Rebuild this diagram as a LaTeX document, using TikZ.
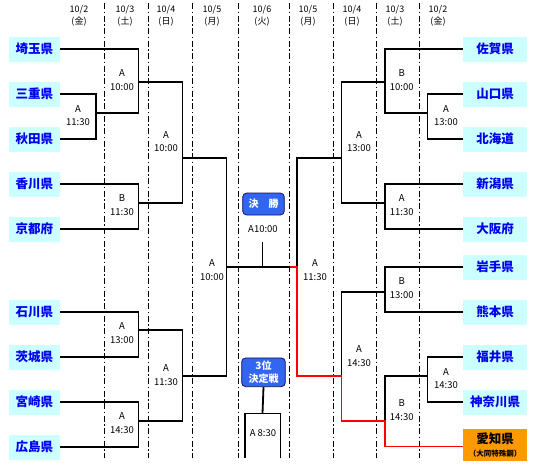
\documentclass[tikz,border=0pt]{standalone}
\usepackage{fontspec}
\setmainfont{Noto Sans CJK JP}
\definecolor{teambg}{HTML}{CCFFFF}
\definecolor{teamfg}{HTML}{0000EE}
\definecolor{hostbg}{HTML}{FF9900}
\definecolor{boxbg}{HTML}{3366F0}
\definecolor{boxline}{HTML}{101060}
\tikzset{
  teamL/.style={fill=teambg, text=teamfg, font=\bfseries\fontsize{12.5}{14}\selectfont,
    minimum width=51pt, minimum height=25pt, inner sep=0pt},
  teamR/.style={teamL, minimum width=63.5pt},
  game/.style={align=center, font=\fontsize{9.5}{13.5}\selectfont, inner sep=0pt},
  day/.style={align=center, font=\fontsize{9}{12}\selectfont, inner sep=0pt},
  tie/.style={line width=1.8pt},
  win/.style={tie, red},
  sep/.style={line width=0.8pt, dash pattern=on 6pt off 2.5pt on 1.5pt off 2.5pt},
  roundbox/.style={fill=boxbg, draw=boxline, line width=0.8pt, rounded corners=4pt,
    text=white, align=center, font=\bfseries\fontsize{10}{13.5}\selectfont, inner sep=0pt}
}
\begin{document}
\begin{tikzpicture}[x=1pt,y=-1pt]
  \useasboundingbox (0,0) rectangle (536,469);
  % day columns
  \foreach \x in {104,148,192,238,289,333,376,419}
    \draw [sep] (\x,3) -- (\x,458);
  \foreach \x/\d/\w [count=\i] in {79/2/金,125/3/土,166/4/日,212/5/月,262/6/火,308/5/月,352/4/日,395/3/土,438/2/金}
    \node [day] (day\i) at (\x,16) {10/\d\\(\w)};

  % teams, left
  \node [teamL] (saitama)   at (34.5,49)  {埼玉県};
  \node [teamL] (mie)       at (34.5,94)  {三重県};
  \node [teamL] (akita)     at (34.5,139) {秋田県};
  \node [teamL] (kagawa)    at (34.5,184) {香川県};
  \node [teamL] (kyoto)     at (34.5,229) {京都府};
  \node [teamL] (ishikawa)  at (34.5,312) {石川県};
  \node [teamL] (ibaraki)   at (34.5,357) {茨城県};
  \node [teamL] (miyazaki)  at (34.5,402) {宮崎県};
  \node [teamL] (hiroshima) at (34.5,447) {広島県};
  % teams, right
  \node [teamR] (saga)      at (495,49)  {佐賀県};
  \node [teamR] (yamaguchi) at (495,94)  {山口県};
  \node [teamR] (hokkaido)  at (495,139) {北海道};
  \node [teamR] (niigata)   at (495,184) {新潟県};
  \node [teamR] (osaka)     at (495,229) {大阪府};
  \node [teamR] (iwate)     at (495,267) {岩手県};
  \node [teamR] (kumamoto)  at (495,312) {熊本県};
  \node [teamR] (fukui)     at (495,357) {福井県};
  \node [teamR] (kanagawa)  at (495,402) {神奈川県};
  \node [teamR, fill=hostbg, text=black, minimum height=32pt, align=center,
    font=\bfseries\fontsize{12.5}{16}\selectfont] (aichi) at (495,445)
    {愛知県\\[-3pt]{\fontsize{7.5}{9}\selectfont （大同特殊鋼）}};

  % game points
  \coordinate (gL1) at (96,113);
  \coordinate (gL2) at (138.5,82);
  \coordinate (gL3) at (138.5,203);
  \coordinate (gL4) at (182.5,158);
  \coordinate (gL5) at (138.5,330);
  \coordinate (gL6) at (138.5,421);
  \coordinate (gL7) at (182.5,376);
  \coordinate (gL)  at (226.5,267);
  \coordinate (gR1) at (427.5,113);
  \coordinate (gR2) at (385,82);
  \coordinate (gR3) at (385,203);
  \coordinate (gR4) at (341.5,158);
  \coordinate (gR5) at (385,292);
  \coordinate (gR6) at (427.5,376);
  \coordinate (gR7) at (385,421);
  \coordinate (gR8) at (341.5,376);
  \coordinate (gR)  at (297,267);
  \coordinate (finR) at (290,267);
  \coordinate (fin) at (262.5,267);
  \coordinate (finTop) at (262.5,242);

  % left half
  \draw [tie] (mie.east) -| (gL1) |- (akita.east);
  \draw [tie] (saitama.east) -| (gL2) |- (gL1);
  \draw [tie] (kagawa.east) -| (gL3) |- (kyoto.east);
  \draw [tie] (gL2) -| (gL4) |- (gL3);
  \draw [tie] (ishikawa.east) -| (gL5) |- (ibaraki.east);
  \draw [tie] (miyazaki.east) -| (gL6) |- (hiroshima.east);
  \draw [tie] (gL5) -| (gL7) |- (gL6);
  \draw [tie] (gL4) -| (gL) |- (gL7);
  \draw [tie] (gL) -- (finR);
  \draw [tie] (fin) -- (finTop);
  % right half
  \draw [tie] (yamaguchi.west) -| (gR1) |- (hokkaido.west);
  \draw [tie] (saga.west) -| (gR2) |- (gR1);
  \draw [tie] (niigata.west) -| (gR3) |- (osaka.west);
  \draw [tie] (gR2) -| (gR4) |- (gR3);
  \draw [tie] (iwate.west) -| (gR5) |- (kumamoto.west);
  \draw [tie] (fukui.west) -| (gR6) |- (kanagawa.west);
  \draw [tie] (gR6) -| (gR7);
  \draw [tie] (gR5) -| (gR8);
  \draw [tie] (gR4) -| (gR);
  \draw [win] (aichi.west |- 0,446.5) -| (gR7) -| (gR8) -| (gR) -- (finR);

  % game labels
  \node [game] (tL1) at (78,115.5)  {A\\11:30};
  \node [game] (tL2) at (122,80)    {A\\10:00};
  \node [game] (tL3) at (122,205)   {B\\11:30};
  \node [game] (tL4) at (166,141.5) {A\\10:00};
  \node [game] (tL5) at (122,333)   {A\\13:00};
  \node [game] (tL6) at (122,423)   {A\\14:30};
  \node [game] (tL7) at (166,375)   {A\\11:30};
  \node [game] (tL)  at (212,270)   {A\\10:00};
  \node [game] (tR1) at (446,115.5) {A\\13:00};
  \node [game] (tR2) at (401.7,80)  {B\\10:00};
  \node [game] (tR3) at (401.7,205) {A\\11:30};
  \node [game] (tR4) at (359,141.5) {A\\13:00};
  \node [game] (tR5) at (401.7,288) {B\\13:00};
  \node [game] (tR6) at (446,378.7) {A\\14:30};
  \node [game] (tR7) at (401.7,410) {B\\14:30};
  \node [game] (tR8) at (359,356)   {A\\14:30};
  \node [game] (tR)  at (315,270)   {A\\11:30};

  % final and third place
  \node [roundbox, minimum width=41.6pt, minimum height=22pt] (final) at (263.5,204) {決　勝};
  \node [game] (finTime) at (263,229) {A10:00};
  \node [roundbox, minimum width=43.6pt, minimum height=28.7pt] (third) at (263.5,372.3) {3位\\決定戦};
  \coordinate (thirdSplit) at (262.5,413.5);
  \coordinate (thirdL) at (245,458);
  \coordinate (thirdR) at (280.5,458);
  \draw [tie] (third.south) -- (thirdSplit);
  \draw [tie] (thirdL) |- (thirdR |- thirdSplit) -- (thirdR);
  \node [game] (thirdTime) at (263,432.7) {A 8:30};
\end{tikzpicture}
\end{document}
